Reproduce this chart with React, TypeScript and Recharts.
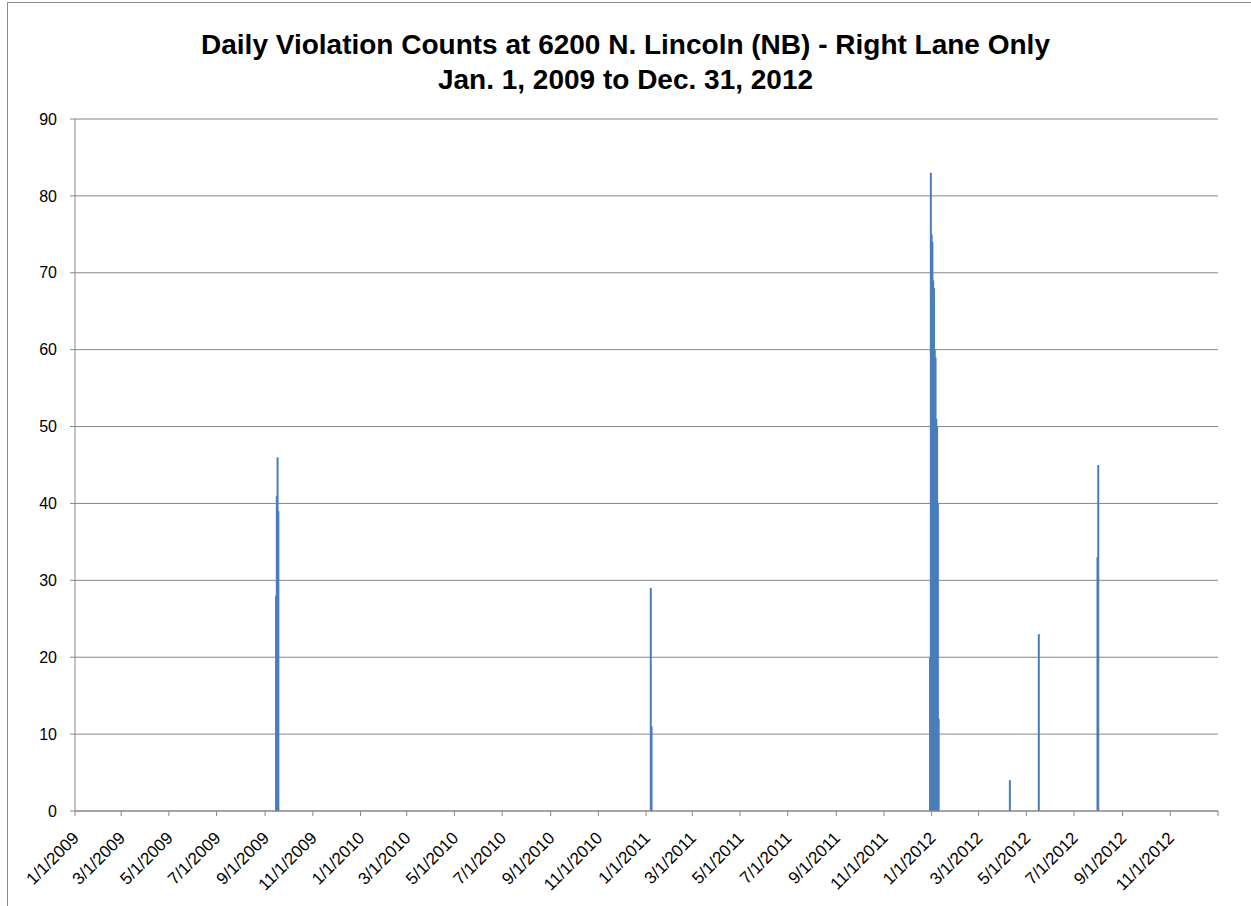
import React from 'react';
import { ComposedChart, Bar, XAxis, YAxis, CartesianGrid } from 'recharts';

const titleLine1 = 'Daily Violation Counts at 6200 N. Lincoln (NB) - Right Lane Only';
const titleLine2 = 'Jan. 1, 2009 to Dec. 31, 2012';

const xTickLabels = [
  '1/1/2009', '3/1/2009', '5/1/2009', '7/1/2009', '9/1/2009', '11/1/2009',
  '1/1/2010', '3/1/2010', '5/1/2010', '7/1/2010', '9/1/2010', '11/1/2010',
  '1/1/2011', '3/1/2011', '5/1/2011', '7/1/2011', '9/1/2011', '11/1/2011',
  '1/1/2012', '3/1/2012', '5/1/2012', '7/1/2012', '9/1/2012', '11/1/2012',
];
const xAxisEnd = '1/1/2013';
const yTicks = [0, 10, 20, 30, 40, 50, 60, 70, 80, 90];

// days with violations (all other days are 0)
const spikeDates = [
  '9/15/2009', '9/16/2009', '9/17/2009', '9/18/2009',
  '1/7/2011', '1/8/2011',
  '12/30/2011', '12/31/2011', '1/1/2012', '1/2/2012', '1/3/2012', '1/4/2012',
  '1/5/2012', '1/6/2012', '1/7/2012', '1/8/2012', '1/9/2012', '1/10/2012',
  '4/10/2012', '5/17/2012', '7/31/2012', '8/1/2012',
];
const spikeCounts = [
  28, 41, 46, 39,
  29, 11,
  20, 83, 75, 74, 69, 68,
  60, 59, 51, 50, 40, 12,
  4, 23, 33, 45,
];

const toTime = (s: string) => {
  const [m, d, y] = s.split('/').map(Number);
  return Date.UTC(y, m - 1, d);
};

const data = spikeDates.map((s, i) => ({ t: toTime(s), count: spikeCounts[i] }));
const tickTimes = [...xTickLabels.map(toTime), toTime(xAxisEnd)];
const labelByTime: Record<number, string> = {};
xTickLabels.forEach((l) => { labelByTime[toTime(l)] = l; });

const FONT = '"Liberation Sans", Arial, sans-serif';
const BLUE = '#4A7EBB';
const GRAY = '#868686';

const Spike = (props: any) => {
  const { x, y, width, height } = props;
  if (x == null || y == null || !isFinite(x) || !isFinite(y)) return null;
  const cx = x + (width || 0) / 2;
  return <rect x={cx - 1} y={y} width={2} height={Math.max(0, height)} fill={BLUE} />;
};

const XTick = (props: any) => {
  const { x, y, payload } = props;
  const label = labelByTime[payload.value] || '';
  return (
    <g transform={`translate(${x},${y})`}>
      <text
        x={5}
        y={21}
        textAnchor="end"
        transform="rotate(-45 5 21)"
        fontSize={17}
        fontFamily={FONT}
        fill="#000"
      >
        {label}
      </text>
    </g>
  );
};

export default function App() {
  return (
    <div
      style={{
        position: 'fixed',
        left: 0,
        top: 0,
        width: 1251,
        height: 906,
        overflow: 'hidden',
        background: '#fff',
      }}
    >
      <div
        style={{
          position: 'absolute',
          left: 7,
          top: 2,
          width: 1300,
          height: 960,
          border: '1px solid #8c8c8c',
        }}
      />
      <div
        style={{
          position: 'absolute',
          left: 0,
          top: 27,
          width: 1251,
          textAlign: 'center',
          fontFamily: FONT,
          fontWeight: 'bold',
          fontSize: 28,
          lineHeight: '35px',
          color: '#000',
        }}
      >
        <div>{titleLine1}</div>
        <div>{titleLine2}</div>
      </div>
      <div style={{ position: 'absolute', left: 0, top: 0 }}>
        <ComposedChart
          width={1251}
          height={906}
          data={data}
          margin={{ top: 119, right: 33, bottom: 35, left: 15 }}
        >
          <CartesianGrid horizontal vertical={false} stroke={GRAY} />
          <XAxis
            dataKey="t"
            type="number"
            scale="linear"
            domain={[toTime(xTickLabels[0]), toTime(xAxisEnd)]}
            ticks={tickTimes}
            interval={0}
            height={60}
            tickSize={5}
            tickMargin={2}
            stroke={GRAY}
            tick={<XTick />}
            allowDataOverflow
          />
          <YAxis
            type="number"
            domain={[0, 90]}
            ticks={yTicks}
            interval={0}
            width={60}
            tickSize={5}
            tickMargin={13}
            stroke={GRAY}
            tick={{ fontSize: 16, fill: '#000', fontFamily: FONT }}
          />
          <Bar dataKey="count" fill={BLUE} barSize={2} shape={<Spike />} isAnimationActive={false} />
        </ComposedChart>
      </div>
    </div>
  );
}
